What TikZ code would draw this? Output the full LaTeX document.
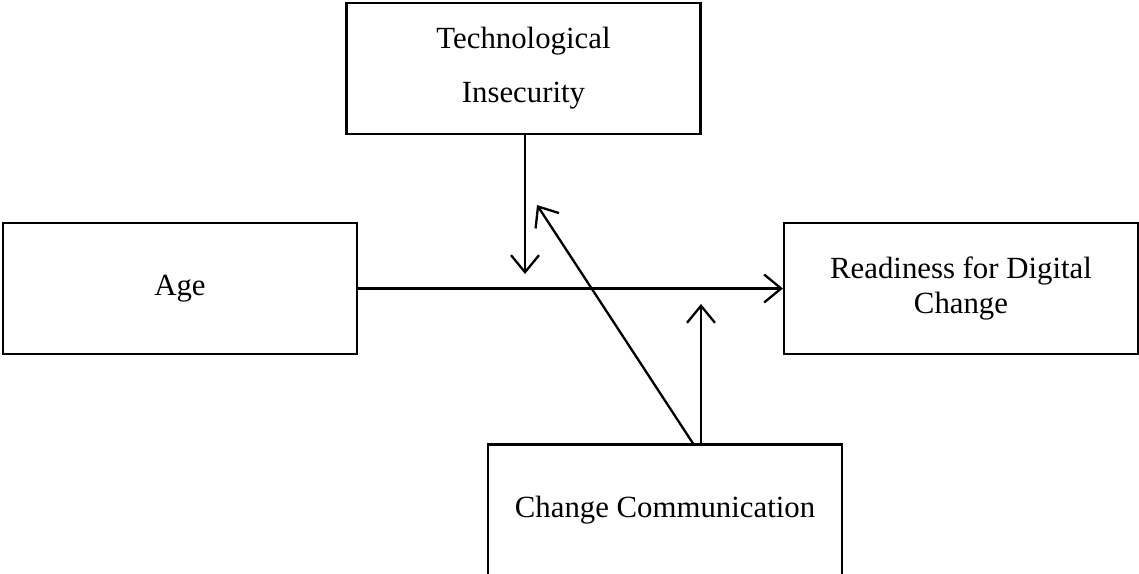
\documentclass[tikz,border=0pt]{standalone}
\usepackage{fontspec}
\setmainfont{Liberation Serif}
\usetikzlibrary{arrows.meta}
\begin{document}
\begin{tikzpicture}[x=1pt,y=-1pt,
  box/.style={draw,line width=2.1pt,minimum width=354pt,minimum height=131pt,inner sep=0pt,align=center},
  conn/.style={line width=2.3pt,-{Straight Barb[length=17pt,width=28pt]}}]
\clip (0,0) rectangle (1139,573);
\fill[white] (0,0) rectangle (1139,573);
\node[box,font=\fontsize{30.8}{54}\selectfont] (tech) at (523.5,68.5) {Technological\\Insecurity};
\node[box,font=\fontsize{30.8}{35}\selectfont] (age) at (180,288.5) {\raisebox{-3pt}{Age}};
\node[box,font=\fontsize{30.8}{35}\selectfont] (read) at (961,288.5) {\raisebox{-3pt}{Readiness for Digital}\\\raisebox{-3pt}{Change}};
\node[box,font=\fontsize{30.8}{35}\selectfont] (chg) at (665,510) {\raisebox{-2pt}{Change Communication}};
\coordinate (tdown) at (525,274);
\coordinate (tdiag) at (537,205);
\coordinate (tup) at (701,304);
\draw[conn] (age.east) -- (read.west);
\draw[conn] ([xshift=1.5pt]tech.south) -- (tdown);
\draw[conn] ([xshift=28pt]chg.north) -- (tdiag);
\draw[conn] ([xshift=36pt]chg.north) -- (tup);
\end{tikzpicture}
\end{document}
